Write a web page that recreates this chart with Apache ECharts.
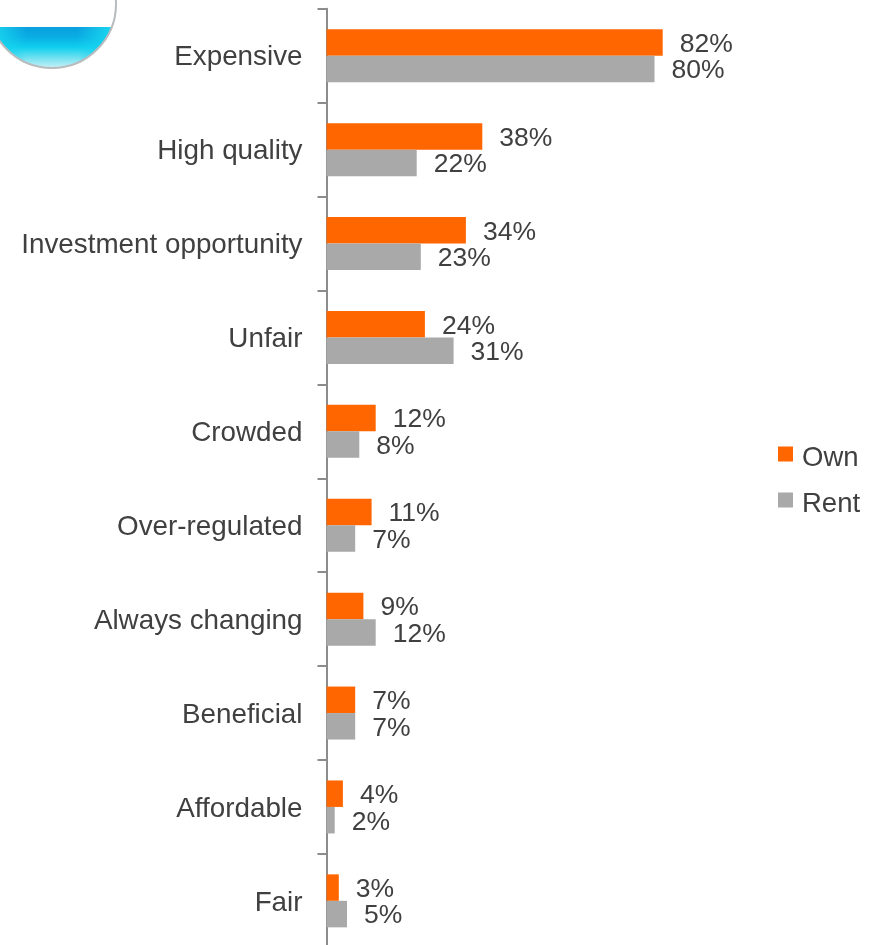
<!DOCTYPE html>
<html><head><meta charset="utf-8">
<style>html,body{margin:0;padding:0;background:#fff}#c{width:874px;height:945px}</style>
<script src="https://cdn.jsdelivr.net/npm/echarts@6/dist/echarts.min.js"></script>
</head><body><div id="c"></div>
<script>
const categories = ["Expensive","High quality","Investment opportunity","Unfair","Crowded","Over-regulated","Always changing","Beneficial","Affordable","Fair"];
const own = [82,38,34,24,12,11,9,7,4,3];
const rent = [80,22,23,31,8,7,12,7,2,5];
const font = "Liberation Sans", text = "#404040";
const chart = echarts.init(document.getElementById('c'), null, {renderer:'canvas'});
const label = {show:true, position:'right', distance:17, offset:[0,2], formatter:'{c}%', color:text, fontFamily:font, fontSize:26.5};
const G = echarts.graphic;
chart.setOption({
  animation:false,
  backgroundColor:'#fff',
  grid:{left:326.5, top:8.8, width:410, height:939, containLabel:false, outerBoundsMode:'none'},
  xAxis:{type:'value', min:0, max:100, show:false},
  yAxis:{type:'category', inverse:true, data:categories,
    axisLine:{show:true, lineStyle:{color:'#8c8c8c', width:2}},
    axisTick:{show:true, length:9, alignWithLabel:false, lineStyle:{color:'#8c8c8c', width:2}},
    axisLabel:{color:text, fontFamily:font, fontSize:27.8, margin:24, verticalAlign:'top', lineHeight:4}, splitLine:{show:false}},
  legend:{orient:'vertical', left:773, top:431, icon:'rect', itemWidth:15, itemHeight:15, itemGap:10, itemStyle:{borderWidth:0},
    formatter:n=>'{t|'+n+'}',
    textStyle:{rich:{t:{color:text, fontFamily:font, fontSize:27.5, lineHeight:29, padding:[8,0,0,4]}}}, data:['Own','Rent']},
  graphic:[
    {type:'circle', silent:true, z:10, shape:{cx:52,cy:4,r:64},
      style:{fill:new G.LinearGradient(0,0,0,1,[
        {offset:0.68,color:'#0a9ede'},{offset:0.76,color:'#0aaee4'},{offset:0.84,color:'#10d0ee'},{offset:0.92,color:'#70e0f0'},{offset:1,color:'#c8f0f5'}])}},
    {type:'circle', silent:true, z:10, shape:{cx:52,cy:4,r:64},
      style:{fill:new G.LinearGradient(0,0,1,0,[
        {offset:0.05,color:'rgba(24,212,238,1)'},{offset:0.3,color:'rgba(24,212,238,0)'},{offset:0.7,color:'rgba(24,212,238,0)'},{offset:0.95,color:'rgba(24,212,238,1)'}])}},
    {type:'rect', silent:true, z:11, shape:{x:-20,y:-70,width:150,height:97}, style:{fill:'#fff'}},
    {type:'circle', silent:true, z:12, shape:{cx:52,cy:4,r:64}, style:{fill:'none',stroke:'#b8bcbe',lineWidth:2}}
  ],
  series:[
    {name:'Own', type:'bar', data:own, barWidth:26.5, barGap:0, itemStyle:{color:'#ff6600'}, label},
    {name:'Rent', type:'bar', data:rent, barWidth:26.5, barGap:0, itemStyle:{color:'#a9a9a9'}, label}
  ]
});
</script></body></html>
